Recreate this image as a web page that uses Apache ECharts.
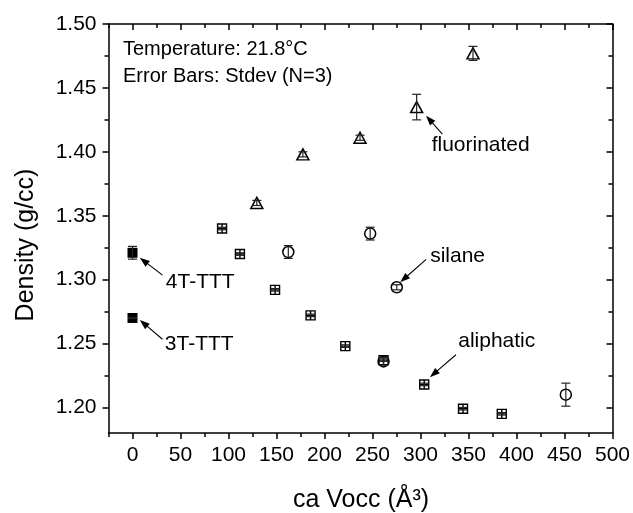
<!DOCTYPE html>
<html><head><meta charset="utf-8">
<script src="https://cdn.jsdelivr.net/npm/echarts@6/dist/echarts.min.js"></script>
<style>html,body{margin:0;padding:0;background:#fff}#c{width:633px;height:513px}</style>
</head><body><div id="c"></div>
<script>
// ---- tick values ----
const xMajorTicks = [0, 50, 100, 150, 200, 250, 300, 350, 400, 450, 500];
const xMinorTicks = [-25, 25, 75, 125, 175, 225, 275, 325, 375, 425, 475];
const yMajorTicks = [1.20, 1.25, 1.30, 1.35, 1.40, 1.45, 1.50];
const yMinorTicks = [1.225, 1.275, 1.325, 1.375, 1.425, 1.475];

// ---- data ----
const fluorX   = [129.5, 177.5, 237.0, 296.0, 354.7];
const fluorY   = [1.360, 1.398, 1.411, 1.435, 1.477];
const fluorErr = [0.002, 0.002, 0.002, 0.010, 0.0055];

const silaneX   = [162.3, 247.6, 261.5, 275.3, 451.4];
const silaneY   = [1.3216, 1.336, 1.236, 1.294, 1.210];
const silaneErr = [0.005, 0.005, 0.003, 0.002, 0.009];

const aliphX   = [93.3, 111.9, 148.5, 185.5, 221.7, 261.5, 303.9, 344.3, 384.7];
const aliphY   = [1.340, 1.320, 1.292, 1.272, 1.248, 1.237, 1.218, 1.199, 1.195];
const aliphErr = [0.001, 0.001, 0.001, 0.001, 0.001, 0.001, 0.001, 0.001, 0.001];

const tttNames = ['4T-TTT', '3T-TTT'];
const tttX   = [0, 0];
const tttY   = [1.321, 1.270];
const tttErr = [0.005, 0.0005];

const infoLines = ['Temperature: 21.8°C', 'Error Bars: Stdev (N=3)'];
const xTitle = 'ca Vocc (Å³)';
const yTitle = 'Density (g/cc)';

const FONT = '"Liberation Sans", Arial, Helvetica, sans-serif';
const BLACK = '#000';

function pts(xs, ys) { return xs.map((x, i) => [x, ys[i]]); }
function errs(xs, ys, es) { return xs.map((x, i) => [x, ys[i] - es[i], ys[i] + es[i]]); }

const chart = echarts.init(document.getElementById('c'), null, { renderer: 'canvas' });

function mkX(position, ticks, len, inside, showLine, showLabel) {
  return {
    type: 'value', min: -25, max: 500, position: position,
    axisLine: { show: showLine, onZero: false, lineStyle: { color: BLACK, width: 1.5 } },
    axisTick: { show: true, customValues: ticks, length: len, inside: inside, lineStyle: { color: BLACK, width: 1.5 } },
    axisLabel: { show: showLabel, customValues: xMajorTicks, fontSize: 21, color: BLACK, fontFamily: FONT, margin: 12 },
    splitLine: { show: false }
  };
}
function mkY(position, ticks, len, inside, showLine, showLabel) {
  return {
    type: 'value', min: 1.18, max: 1.50, position: position,
    axisLine: { show: showLine, onZero: false, lineStyle: { color: BLACK, width: 1.5 } },
    axisTick: { show: true, customValues: ticks, length: len, inside: inside, lineStyle: { color: BLACK, width: 1.5 } },
    axisLabel: { show: showLabel, customValues: yMajorTicks, fontSize: 21, color: BLACK, fontFamily: FONT, margin: 12,
      formatter: v => v.toFixed(2) },
    splitLine: { show: false }
  };
}

function errorSeries(data) {
  return {
    type: 'custom', xAxisIndex: 0, yAxisIndex: 0, z: 5, silent: true,
    data: data,
    renderItem: function (params, api) {
      const x = api.value(0), lo = api.value(1), hi = api.value(2);
      const p1 = api.coord([x, hi]), p2 = api.coord([x, lo]);
      const w = 4.5;
      const st = { stroke: '#222', lineWidth: 1.2, fill: null };
      return { type: 'group', children: [
        { type: 'line', shape: { x1: p1[0], y1: p1[1], x2: p2[0], y2: p2[1] }, style: st },
        { type: 'line', shape: { x1: p1[0] - w, y1: p1[1], x2: p1[0] + w, y2: p1[1] }, style: st },
        { type: 'line', shape: { x1: p2[0] - w, y1: p2[1], x2: p2[0] + w, y2: p2[1] }, style: st }
      ] };
    }
  };
}

const option = {
  backgroundColor: '#fff',
  animation: false,
  grid: { left: 108.5, right: 19, top: 24, bottom: 80, containLabel: false },
  xAxis: [
    mkX('bottom', xMajorTicks, 6, false, true, true),
    mkX('bottom', xMinorTicks, 4, false, false, false),
    mkX('top', xMajorTicks, 6, true, true, false),
    mkX('top', xMinorTicks, 4, true, false, false)
  ],
  yAxis: [
    mkY('left', yMajorTicks, 6, false, true, true),
    mkY('left', yMinorTicks, 4, false, false, false),
    mkY('right', yMajorTicks, 6, true, true, false),
    mkY('right', yMinorTicks, 4, true, false, false)
  ],
  series: [
    { type: 'scatter', name: 'aliphatic', xAxisIndex: 0, yAxisIndex: 0, z: 3,
      data: pts(aliphX, aliphY),
      symbol: 'path://M0,0L10,0L10,10L0,10Z M5,0L5,10 M0,5L10,5', symbolSize: 9,
      itemStyle: { color: '#fff', borderColor: BLACK, borderWidth: 1.4, opacity: 1 } },
    { type: 'scatter', name: 'silane', xAxisIndex: 0, yAxisIndex: 0, z: 3,
      data: pts(silaneX, silaneY), symbol: 'circle', symbolSize: 11,
      itemStyle: { color: 'rgba(255,255,255,0)', borderColor: BLACK, borderWidth: 1.5, opacity: 1 } },
    { type: 'scatter', name: 'fluorinated', xAxisIndex: 0, yAxisIndex: 0, z: 3,
      data: pts(fluorX, fluorY), symbol: 'triangle', symbolSize: [12, 11],
      itemStyle: { color: '#fff', borderColor: BLACK, borderWidth: 1.5, opacity: 1 } },
    { type: 'scatter', name: 'TTT', xAxisIndex: 0, yAxisIndex: 0, z: 3,
      data: pts(tttX, tttY), symbol: 'rect', symbolSize: 10,
      itemStyle: { color: BLACK, borderColor: BLACK, borderWidth: 0, opacity: 1 } },
    errorSeries(errs(aliphX, aliphY, aliphErr)),
    errorSeries(errs(silaneX, silaneY, silaneErr)),
    errorSeries(errs(fluorX, fluorY, fluorErr)),
    errorSeries(errs(tttX, tttY, tttErr))
  ]
};
chart.setOption(option);

// ---- annotations (text + arrow), offsets in pixels relative to the pointed data point ----
const annotations = [
  { text: tttNames[0], pt: [tttX[0], tttY[0]], head: [7.3, 5], tail: [30, 22.4], label: [33.3, 29.3] },
  { text: tttNames[1], pt: [tttX[1], tttY[1]], head: [7.3, 2], tail: [30, 21.3], label: [32.3, 26.6] },
  { text: 'fluorinated', pt: [fluorX[3], fluorY[3]], head: [9.4, 8.6], tail: [25.7, 27], label: [15, 38.6] },
  { text: 'silane', pt: [silaneX[3], silaneY[3]], head: [3.4, -5], tail: [29.4, -28], label: [33.4, -30.7] },
  { text: 'aliphatic', pt: [aliphX[6], aliphY[6]], head: [5.7, -7.3], tail: [31.7, -29.7], label: [34, -43.1] }
];

const graphics = [];
annotations.forEach(a => {
  const p = chart.convertToPixel({ xAxisIndex: 0, yAxisIndex: 0 }, a.pt);
  const hx = p[0] + a.head[0], hy = p[1] + a.head[1];
  const tx = p[0] + a.tail[0], ty = p[1] + a.tail[1];
  const dx = hx - tx, dy = hy - ty, L = Math.sqrt(dx * dx + dy * dy);
  const ux = dx / L, uy = dy / L, nx = -uy, ny = ux;
  const al = 10, aw = 3.6;
  const bx = hx - ux * al, by = hy - uy * al;
  graphics.push({ type: 'line', z: 10, silent: true,
    shape: { x1: tx, y1: ty, x2: bx + ux * 2, y2: by + uy * 2 },
    style: { stroke: BLACK, lineWidth: 1.1 } });
  graphics.push({ type: 'polygon', z: 10, silent: true,
    shape: { points: [[hx, hy], [bx + nx * aw, by + ny * aw], [bx - nx * aw, by - ny * aw]] },
    style: { fill: BLACK } });
  graphics.push({ type: 'text', z: 10, silent: true,
    x: p[0] + a.label[0], y: p[1] + a.label[1],
    style: { text: a.text, font: '21px ' + FONT, fill: BLACK, align: 'left', verticalAlign: 'middle' } });
});

infoLines.forEach((t, i) => {
  graphics.push({ type: 'text', z: 10, silent: true, x: 123, y: 49.5 + i * 27.3,
    style: { text: t, font: '20px ' + FONT, fill: BLACK, align: 'left', verticalAlign: 'middle' } });
});
graphics.push({ type: 'text', z: 10, silent: true, x: 361, y: 500,
  style: { text: xTitle, font: '25px ' + FONT, fill: BLACK, align: 'center', verticalAlign: 'middle' } });
graphics.push({ type: 'text', z: 10, silent: true, x: 26, y: 245, rotation: Math.PI / 2,
  style: { text: yTitle, font: '25px ' + FONT, fill: BLACK, align: 'center', verticalAlign: 'middle' } });

chart.setOption({ graphic: graphics });
</script>
</body></html>
